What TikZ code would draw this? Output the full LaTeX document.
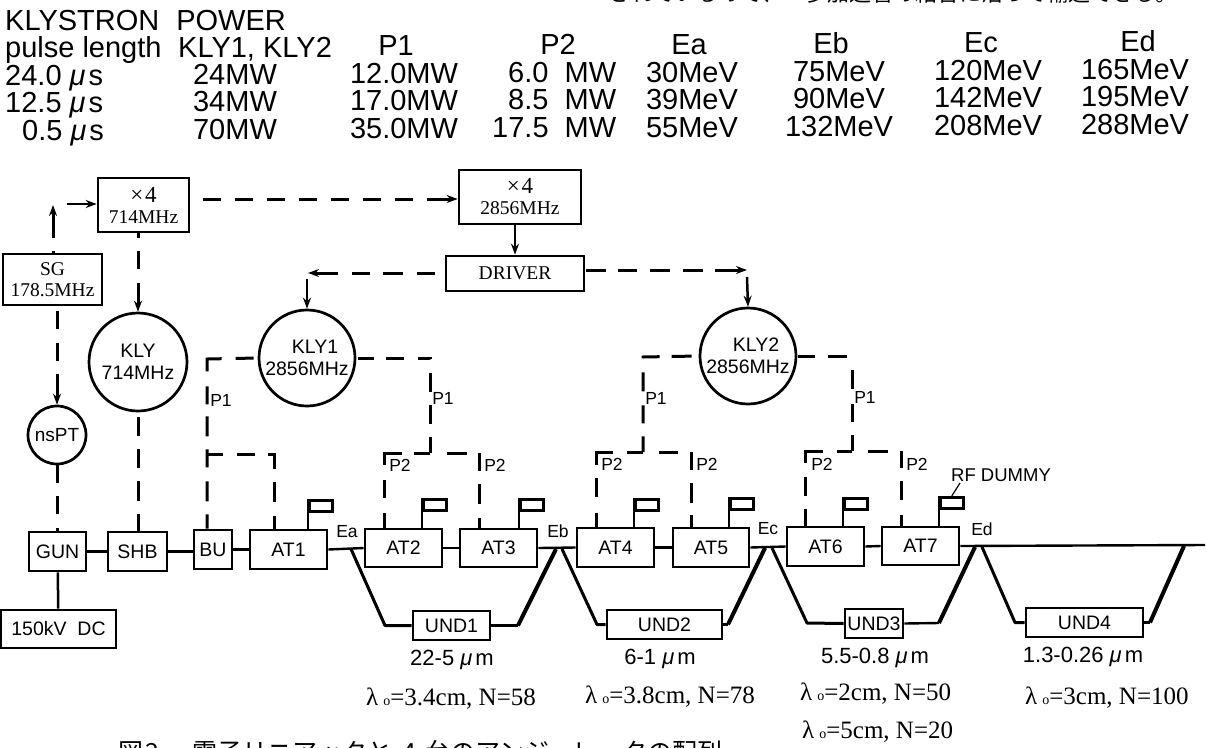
\documentclass[tikz,border=0pt]{standalone}
\usepackage{fontspec}
\setmainfont{Liberation Sans}
\newfontfamily\serifF{Liberation Serif}
\newfontfamily\cjkF{Noto Sans CJK JP}
\usetikzlibrary{arrows.meta}
\newcommand{\fs}[1]{\fontsize{#1}{#1}\selectfont}
\newcommand{\mus}{{\itshape μ}\hspace{3pt}}
\newcommand{\xf}{{\fontsize{23}{21}\selectfont×\hspace{2pt}4}}
\tikzset{
  box/.style={draw,line width=2.7pt,rectangle,inner sep=0pt,align=center,font=\fs{19.5}},
  sbox/.style={box,font=\serifF\fontsize{19.5}{21}\selectfont},
  circ/.style={draw,line width=2.7pt,circle,inner sep=0pt,align=center,font=\fontsize{19.5}{22}\selectfont},
  flagbox/.style={draw,line width=2.5pt,rectangle,inner sep=0pt,minimum width=23pt,minimum height=11pt},
  dsh/.style={line width=3pt,dash pattern=#1},
  sol/.style={line width=2.5pt},
  arr/.style={-{Stealth[length=11pt,width=8pt]}},
  beam/.style={line width=2.4pt},
  bendline/.style={line width=3pt,line join=round},
  bendthick/.style={line width=4pt},
  tab/.style={anchor=base,inner sep=0pt,font=\fs{29}},
  tabl/.style={tab,anchor=base west},
  lab/.style={inner sep=0pt,font=\fs{17.5}},
  wl/.style={inner sep=0pt,font=\fs{22}},
  lam/.style={inner sep=0pt,anchor=west,font=\serifF\fontsize{25}{25}\selectfont},
}
\newcommand{\ozero}{\hspace{5pt}{\fontsize{14}{14}\selectfont o}}
\begin{document}
\begin{tikzpicture}[x=1pt,y=-1pt]
\useasboundingbox (0,0) rectangle (1207,747);
% cut-off text
\node[inner sep=0pt,anchor=east,font=\cjkF\fontsize{22}{22}\selectfont] (toptext) at (1178,-7) {されているので、　多加速管の結合に沿って輸送できる。};
\node[inner sep=0pt,anchor=west,font=\cjkF\fontsize{25}{25}\selectfont] (caption) at (118,752) {図\hspace*{2pt}2\hspace*{33pt}電子リニアックと\hspace*{10pt}4\hspace*{10pt}台のアンジュレータの配列};
% table
\node[tabl] (h0) at (5,30) {KLYSTRON\hspace*{17pt}POWER};
\node[tabl] (h1) at (5,57) {pulse length};
\node[tabl] (h2) at (178,57) {KLY1, KLY2};
\node[tab] (h3) at (396,55) {P1};
\node[tab] (h4) at (558,54) {P2};
\node[tab] (h5) at (689,54) {Ea};
\node[tab] (h6) at (831,53) {Eb};
\node[tab] (h7) at (981,52) {Ec};
\node[tab] (h8) at (1138,51) {Ed};
\node[tabl] (a0) at (5,85) {24.0 \mus s};
\node[tab] (a1) at (235,84) {24MW};
\node[tab] (a2) at (404,83) {12.0MW};
\node[tabl] (a3) at (508,82) {6.0\ \ MW};
\node[tab] (a4) at (692,82) {30MeV};
\node[tab] (a5) at (839,81) {75MeV};
\node[tab] (a6) at (988,80) {120MeV};
\node[tab] (a7) at (1135,79) {165MeV};
\node[tabl] (b0) at (5,112) {12.5 \mus s};
\node[tab] (b1) at (235,111) {34MW};
\node[tab] (b2) at (404,110) {17.0MW};
\node[tabl] (b3) at (508,109) {8.5\ \ MW};
\node[tab] (b4) at (692,109) {39MeV};
\node[tab] (b5) at (839,108) {90MeV};
\node[tab] (b6) at (988,107) {142MeV};
\node[tab] (b7) at (1135,106) {195MeV};
\node[tabl] (c0) at (22,140) {0.5 \mus s};
\node[tab] (c1) at (235,139) {70MW};
\node[tab] (c2) at (404,138) {35.0MW};
\node[tabl] (c3) at (492,137) {17.5\ \ MW};
\node[tab] (c4) at (692,137) {55MeV};
\node[tab] (c5) at (839,136) {132MeV};
\node[tab] (c6) at (988,135) {208MeV};
\node[tab] (c7) at (1135,134) {288MeV};
% upper boxes
\node[sbox,minimum width=91pt,minimum height=54pt] (x4a) at (143.5,205) {\xf\\714MHz};
\node[sbox,minimum width=122pt,minimum height=54pt] (x4b) at (520,197) {\xf\\2856MHz};
\node[sbox,minimum width=99pt,minimum height=51pt] (sg) at (52.5,279.5) {SG\\178.5MHz};
\node[sbox,minimum width=138pt,minimum height=35pt] (driver) at (515,273.5) {DRIVER};
\node[circ,minimum size=98pt] (kly) at (138,362) {KLY\\714MHz};
\node[circ,minimum size=58pt,font=\fs{19}] (nspt) at (57,435) {nsPT};
\node[circ,minimum size=96pt] (kly1) at (307,358) {\hspace*{16pt}KLY1\\2856MHz};
\node[circ,minimum size=96pt] (kly2) at (748,356) {\hspace*{16pt}KLY2\\2856MHz};
% beamline boxes
\node[box,minimum width=57pt,minimum height=39pt] (gun) at (57.5,551.5) {GUN};
\node[box,minimum width=59pt,minimum height=39pt] (shb) at (137.5,551.5) {SHB};
\node[box,minimum width=38pt,minimum height=39pt] (bu) at (213,549.5) {BU};
\node[box,minimum width=77pt,minimum height=39pt] (at1) at (288.5,549.5) {AT1};
\node[box,minimum width=77pt,minimum height=38pt] (at2) at (403.5,548) {AT2};
\node[box,minimum width=77pt,minimum height=38pt] (at3) at (498.5,548) {AT3};
\node[box,minimum width=77pt,minimum height=39pt] (at4) at (615.5,547.5) {AT4};
\node[box,minimum width=76pt,minimum height=39pt] (at5) at (711,547.5) {AT5};
\node[box,minimum width=77pt,minimum height=39pt] (at6) at (825.5,546.5) {AT6};
\node[box,minimum width=77pt,minimum height=38pt] (at7) at (920.5,546) {AT7};
\node[box,minimum width=115pt,minimum height=38pt] (dc) at (58.5,629) {150kV\ \ DC};
\node[box,minimum width=77pt,minimum height=29pt] (und1) at (451.5,625.5) {UND1};
\node[box,minimum width=115pt,minimum height=29pt] (und2) at (664.5,624.5) {UND2};
\node[box,minimum width=58pt,minimum height=29pt] (und3) at (874,623.5) {UND3};
\node[box,minimum width=117pt,minimum height=29pt] (und4) at (1084.5,622.5) {UND4};
% RF dummy flags
\node[flagbox,anchor=north west] (f1) at (308,499) {};
\node[flagbox,anchor=north west] (f2) at (422,498) {};
\node[flagbox,anchor=north west] (f3) at (519,498) {};
\node[flagbox,anchor=north west] (f4) at (634,498) {};
\node[flagbox,anchor=north west] (f5) at (729,497) {};
\node[flagbox,anchor=north west] (f6) at (843,497) {};
\node[flagbox,anchor=north west] (f7) at (939,496) {};
\draw[sol] (f1.north west) -- (f1.north west |- at1.north);
\draw[sol] (f2.north west) -- (f2.north west |- at2.north);
\draw[sol] (f3.north west) -- (f3.north west |- at3.north);
\draw[sol] (f4.north west) -- (f4.north west |- at4.north);
\draw[sol] (f5.north west) -- (f5.north west |- at5.north);
\draw[sol] (f6.north west) -- (f6.north west |- at6.north);
\draw[sol] (f7.north west) -- (f7.north west |- at7.north);
\node[inner sep=0pt,anchor=west,font=\fs{18.5}] (rfd) at (951,475) {RF DUMMY};
\coordinate (rfdl) at (960,483);
\draw[line width=1.2pt] (f7.north) -- (rfdl);
% beam line
\draw[beam] (gun) -- (gun -| shb.west);
\draw[beam] (shb.east) -- (shb.east -| bu.west);
\draw[beam] (bu.east) -- (at1.west);
\coordinate (ea) at (351,549);
\coordinate (eb) at (556,549);
\coordinate (eb2) at (562,549);
\coordinate (ec) at (765,548);
\coordinate (ec2) at (772,548);
\coordinate (ed) at (975,547);
\coordinate (ed2) at (982,547);
\coordinate (endb) at (1205,545);
\coordinate (endu) at (1184,546);
\draw[beam] (at1.east) -- (at2.west);
\draw[beam] (at2.east) -- (at3.west);
\draw[beam] (at3.east) -- (at4.west);
\draw[beam] (at4.east) -- (at5.west);
\draw[beam] (at5.east) -- (at6.west);
\draw[beam] (at6.east) -- (at7.west);
\draw[beam] (at7.east) -- (endb);
\draw[sol] (gun) -- (dc);
% undulator bends
\coordinate (u1a) at (385,625.5); \coordinate (u1b) at (518,625.5);
\coordinate (u2a) at (597,624.5); \coordinate (u2b) at (728,624.5);
\coordinate (u3a) at (807,623); \coordinate (u3b) at (939,623);
\coordinate (u4a) at (1015,622.5); \coordinate (u4b) at (1150,622.5);
\draw[bendline] (ea) -- (u1a) -- (und1.west);
\draw[beam] (und1.east) -- (u1b);
\draw[bendthick] (u1b) -- (eb);
\draw[bendline] (eb2) -- (u2a) -- (und2.west);
\draw[beam] (und2.east) -- (u2b);
\draw[bendthick] (u2b) -- (ec);
\draw[bendline] (ec2) -- (u3a) -- (und3.west);
\draw[beam] (und3.east) -- (u3b);
\draw[bendthick] (u3b) -- (ed);
\draw[bendline] (ed2) -- (u4a) -- (und4.west);
\draw[beam] (und4.east) -- (u4b);
\draw[bendthick] (u4b) -- (endu);
\node[lab] (lea) at (347,532) {Ea};
\node[lab] (leb) at (558,531) {Eb};
\node[lab] (lec) at (768,529) {Ec};
\node[lab] (led) at (982,529) {Ed};
% signal connectors
\coordinate (sgup) at (53,205);
\coordinate (sgr) at (67,204);
\draw[dsh={on 2pt off 13pt on 60pt off 0pt},arr] (sg.north -| sgup) -- (sgup);
\draw[sol,arr] (sgr) -- (sgr -| x4a.west);
\draw[dsh={on 0pt off 5pt on 18pt off 14pt on 18pt off 13pt on 60pt off 0pt},arr] (sg.south -| nspt.north) -- (nspt.north);
\draw[dsh={on 5pt off 13pt on 18pt off 14pt on 60pt off 0pt},arr] (kly |- x4a.south) -- (kly.north);
\coordinate (x4r) at (203,199);
\draw[dsh={on 18pt off 14pt on 18pt off 14pt on 18pt off 14pt on 18pt off 14pt on 18pt off 14pt on 18pt off 14pt on 18pt off 14pt on 60pt off 0pt},arr] (x4r) -- (x4r -| x4b.west);
\draw[sol,arr] (x4b.south -| driver) -- (driver.north);
\coordinate (dl) at (435,273);
\coordinate (dl1) at (308,273);
\draw[dsh={on 18pt off 14pt on 20pt off 13pt on 18pt off 14pt on 60pt off 0pt},arr] (dl) -- (dl1);
\coordinate (kl1t) at (307,279);
\draw[sol,arr] (kl1t) -- (kly1.north);
\coordinate (dr) at (586,270);
\coordinate (dr1) at (747,270);
\draw[dsh={on 20pt off 12pt on 19pt off 13pt on 20pt off 13pt on 20pt off 12pt on 60pt off 0pt},arr] (dr) -- (dr1);
\coordinate (kl2t) at (747,277);
\draw[sol,arr] (kl2t) -- (kly2.north);
\draw[dsh={on 18pt off 13pt on 18pt off 14pt on 10pt off 0pt}] (nspt.south) -- (gun.north -| nspt.south);
\draw[dsh={on 0pt off 5pt on 19pt off 13pt on 19pt off 13pt on 20pt off 13pt on 30pt off 0pt}] (kly.south) -- (kly.south |- shb.north);
% klystron outputs
\coordinate (k1l) at (207,359);
\coordinate (k1br) at (274,454);
\coordinate (k1bl) at (207,454);
\draw[dsh={on 0pt off 4pt on 18pt off 14pt on 27pt off 15pt on 18pt off 12pt on 20pt off 13pt on 18pt off 14pt on 20pt off 13pt on 30pt off 0pt}] (kly1.west) -- (k1l) -- (k1l |- bu.north);
\draw[dsh={on 16pt off 14pt on 18pt off 13pt on 21pt off 13pt on 20pt off 14pt on 30pt off 0pt}] (k1bl) -- (k1br) -- (k1br |- at1.north);
\coordinate (k1r) at (430,358);
\coordinate (k1d) at (430,453);
\coordinate (p1l) at (384,453); \coordinate (p1r) at (479,453);
\draw[dsh={on 0pt off 2pt on 16pt off 12pt on 18pt off 14pt on 13pt off 14pt on 19pt off 13pt on 19pt off 13pt on 30pt off 0pt}] (kly1.east) -- (k1r) -- (k1d);
\draw[dsh={on 16pt off 12pt on 30pt off 15pt on 18pt off 15pt on 30pt off 0pt}] (k1d) -- (p1l) -- (p1l |- at2.north);
\draw[dsh={on 0pt off 17pt on 20pt off 12pt on 18pt off 13pt on 20pt off 14pt on 30pt off 0pt}] (k1d) -- (p1r) -- (p1r |- at3.north);
\coordinate (k2l) at (643,357);
\coordinate (k2d) at (643,452);
\coordinate (p2l) at (596,452); \coordinate (p2r) at (691,452);
\draw[dsh={on 0pt off 7pt on 20pt off 12pt on 18pt off 14pt on 19pt off 14pt on 18pt off 13pt on 30pt off 0pt}] (kly2.west) -- (k2l) -- (k2d);
\draw[dsh={on 16pt off 14pt on 30pt off 13pt on 19pt off 16pt on 30pt off 0pt}] (k2d) -- (p2l) -- (p2l |- at4.north);
\draw[dsh={on 0pt off 16pt on 19pt off 13pt on 18pt off 13pt on 20pt off 12pt on 30pt off 0pt}] (k2d) -- (p2r) -- (p2r |- at5.north);
\coordinate (k3r) at (852,356);
\coordinate (k3d) at (852,451);
\coordinate (p3l) at (805,451); \coordinate (p3r) at (901,451);
\draw[dsh={on 0pt off 1pt on 17pt off 13pt on 19pt off 19pt on 19pt off 15pt on 18pt off 13pt on 30pt off 0pt}] (kly2.east) -- (k3r) -- (k3d);
\draw[dsh={on 15pt off 14pt on 30pt off 14pt on 19pt off 13pt on 30pt off 0pt}] (k3d) -- (p3l) -- (p3l |- at6.north);
\draw[dsh={on 0pt off 16pt on 20pt off 13pt on 17pt off 13pt on 19pt off 15pt on 30pt off 0pt}] (k3d) -- (p3r) -- (p3r |- at7.north);
% P labels
\node[lab] (pa) at (221,400) {P1};
\node[lab] (pb) at (443,398) {P1};
\node[lab] (pc) at (656,398) {P1};
\node[lab] (pd) at (865,397) {P1};
\node[lab] (q1) at (400,465) {P2};
\node[lab] (q2) at (495,465) {P2};
\node[lab] (q3) at (612,464) {P2};
\node[lab] (q4) at (707,464) {P2};
\node[lab] (q5) at (822,464) {P2};
\node[lab] (q6) at (917,464) {P2};
% wavelengths
\node[wl] (w1) at (452,660) {22-5 \mus m};
\node[wl] (w2) at (660,659) {6-1 \mus m};
\node[wl] (w3) at (875,658) {5.5-0.8 \mus m};
\node[wl] (w4) at (1083,657) {1.3-0.26 \mus m};
\node[lam] (l1) at (366,699) {λ\ozero=3.4cm, N=58};
\node[lam] (l2) at (585,697) {λ\ozero=3.8cm, N=78};
\node[lam] (l3) at (800,694) {λ\ozero=2cm, N=50};
\node[lam] (l4) at (1025,698) {λ\ozero=3cm, N=100};
\node[lam] (l5) at (802,732) {λ\ozero=5cm, N=20};
\end{tikzpicture}
\end{document}
